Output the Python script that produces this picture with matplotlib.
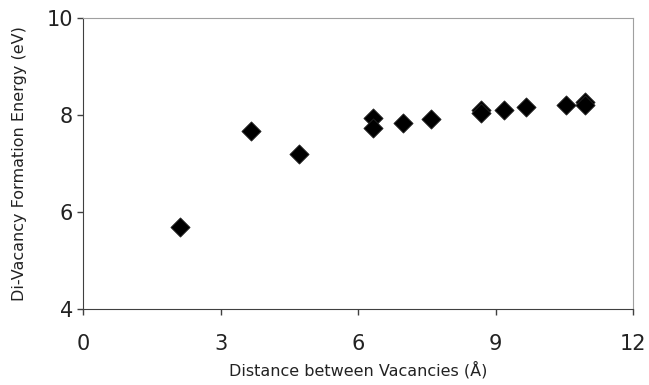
import matplotlib
matplotlib.use("Agg")
import matplotlib.pyplot as plt

distance = [2.11, 3.65, 4.71, 6.31, 6.31, 6.98, 7.59, 8.68, 8.68, 9.18, 9.65, 10.53, 10.95, 10.95]
energy = [5.69, 7.68, 7.20, 7.94, 7.73, 7.85, 7.92, 8.11, 8.04, 8.11, 8.17, 8.21, 8.28, 8.22]
xticks = [0, 3, 6, 9, 12]
yticks = [4, 6, 8, 10]

fig = plt.figure(figsize=(6.49, 3.85), dpi=100)
ax = fig.add_axes([0.1284, 0.1966, 0.8474, 0.7559])
ax.scatter(distance, energy, marker='D', s=95, color='black', edgecolors='#222222', linewidths=0.6, zorder=3)
ax.set_xlim(0, 12)
ax.set_ylim(4, 10)
ax.set_xticks(xticks)
ax.set_yticks(yticks)
ax.tick_params(axis='both', direction='out', length=4.5, width=1, color='#404040', labelsize=15, labelcolor='#222222')
ax.tick_params(axis='x', pad=13)
ax.tick_params(axis='y', pad=3)
for s in ['left', 'bottom']:
    ax.spines[s].set_color('#404040')
for s in ['top', 'right']:
    ax.spines[s].set_color('#a0a0a0')
ax.set_xlabel('Distance between Vacancies (Å)', fontsize=11.5, color='#222222', labelpad=5)
ax.set_ylabel('Di-Vacancy Formation Energy (eV)', fontsize=11.5, color='#222222', labelpad=14)
fig.savefig('out.png', dpi=100)
